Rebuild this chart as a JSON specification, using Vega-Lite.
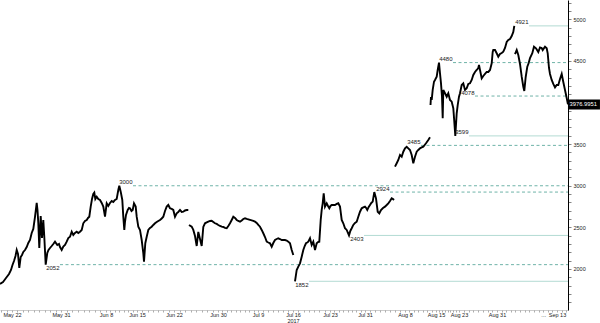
{
  "$schema": "https://vega.github.io/schema/vega-lite/v6.json",
  "width": 568,
  "height": 310,
  "autosize": {"type": "none"},
  "padding": {"left": 0, "top": 0, "right": 32, "bottom": 13},
  "background": "white",
  "config": {"view": {"stroke": null}, "font": "Liberation Sans"},
  "datasets": {
    "price": [
      {"t":"2017-05-19T19:00","p":1820,"s":1},{"t":"2017-05-20T08:20","p":1844,"s":1},{"t":"2017-05-20T21:33","p":1892,"s":1},{"t":"2017-05-21T10:47","p":1940,"s":1},{"t":"2017-05-21T19:35","p":1988,"s":1},{"t":"2017-05-22T02:12","p":2048,"s":1},{"t":"2017-05-22T08:49","p":2096,"s":1},{"t":"2017-05-22T15:26","p":2156,"s":1},{"t":"2017-05-22T20:43","p":2228,"s":1},{"t":"2017-05-23T02:27","p":2180,"s":1},{"t":"2017-05-23T08:11","p":2012,"s":1},{"t":"2017-05-23T14:21","p":2144,"s":1},{"t":"2017-05-23T20:05","p":2168,"s":1},{"t":"2017-05-24T01:49","p":2204,"s":1},{"t":"2017-05-24T09:18","p":2228,"s":1},{"t":"2017-05-24T16:48","p":2264,"s":1},{"t":"2017-05-24T23:51","p":2312,"s":1},{"t":"2017-05-25T07:20","p":2348,"s":1},{"t":"2017-05-25T14:50","p":2433,"s":1},{"t":"2017-05-25T21:53","p":2481,"s":1},{"t":"2017-05-26T05:23","p":2625,"s":1},{"t":"2017-05-26T12:53","p":2793,"s":1},{"t":"2017-05-26T16:24","p":2709,"s":1},{"t":"2017-05-26T19:56","p":2553,"s":1},{"t":"2017-05-27T00:20","p":2252,"s":1},{"t":"2017-05-27T06:31","p":2637,"s":1},{"t":"2017-05-27T12:14","p":2372,"s":1},{"t":"2017-05-27T17:58","p":2589,"s":1},{"t":"2017-05-27T22:23","p":2384,"s":1},{"t":"2017-05-28T04:33","p":2052,"s":1},{"t":"2017-05-28T11:36","p":2192,"s":1},{"t":"2017-05-28T16:53","p":2228,"s":1},{"t":"2017-05-28T23:30","p":2252,"s":1},{"t":"2017-05-29T07:00","p":2276,"s":1},{"t":"2017-05-29T14:03","p":2300,"s":1},{"t":"2017-05-29T21:32","p":2328,"s":1},{"t":"2017-05-30T07:41","p":2288,"s":1},{"t":"2017-05-30T15:11","p":2300,"s":1},{"t":"2017-05-30T19:35","p":2264,"s":1},{"t":"2017-05-31T03:00","p":2228,"s":1},{"t":"2017-05-31T09:49","p":2268,"s":1},{"t":"2017-05-31T17:04","p":2288,"s":1},{"t":"2017-06-01T00:19","p":2328,"s":1},{"t":"2017-06-01T07:09","p":2372,"s":1},{"t":"2017-06-01T14:24","p":2388,"s":1},{"t":"2017-06-01T21:40","p":2448,"s":1},{"t":"2017-06-02T04:29","p":2409,"s":1},{"t":"2017-06-02T11:44","p":2433,"s":1},{"t":"2017-06-02T18:59","p":2448,"s":1},{"t":"2017-06-03T01:49","p":2433,"s":1},{"t":"2017-06-03T09:04","p":2448,"s":1},{"t":"2017-06-03T16:20","p":2469,"s":1},{"t":"2017-06-03T23:09","p":2549,"s":1},{"t":"2017-06-04T06:25","p":2577,"s":1},{"t":"2017-06-04T13:40","p":2589,"s":1},{"t":"2017-06-04T19:13","p":2613,"s":1},{"t":"2017-06-05T00:46","p":2628,"s":1},{"t":"2017-06-05T06:44","p":2749,"s":1},{"t":"2017-06-05T12:17","p":2841,"s":1},{"t":"2017-06-05T17:49","p":2901,"s":1},{"t":"2017-06-05T22:05","p":2917,"s":1},{"t":"2017-06-06T02:22","p":2841,"s":1},{"t":"2017-06-06T08:20","p":2869,"s":1},{"t":"2017-06-06T15:10","p":2841,"s":1},{"t":"2017-06-06T22:25","p":2829,"s":1},{"t":"2017-06-07T05:40","p":2793,"s":1},{"t":"2017-06-07T12:29","p":2749,"s":1},{"t":"2017-06-07T19:45","p":2628,"s":1},{"t":"2017-06-08T03:47","p":2789,"s":1},{"t":"2017-06-08T12:28","p":2757,"s":1},{"t":"2017-06-08T21:41","p":2793,"s":1},{"t":"2017-06-09T06:53","p":2817,"s":1},{"t":"2017-06-09T15:34","p":2805,"s":1},{"t":"2017-06-10T00:46","p":2829,"s":1},{"t":"2017-06-10T09:59","p":2841,"s":1},{"t":"2017-06-10T18:39","p":2949,"s":1},{"t":"2017-06-11T00:04","p":3000,"s":1},{"t":"2017-06-11T07:40","p":2929,"s":1},{"t":"2017-06-11T16:20","p":2829,"s":1},{"t":"2017-06-11T21:45","p":2628,"s":1},{"t":"2017-06-12T03:10","p":2469,"s":1},{"t":"2017-06-12T06:58","p":2565,"s":1},{"t":"2017-06-12T12:23","p":2649,"s":1},{"t":"2017-06-12T21:35","p":2709,"s":1},{"t":"2017-06-13T04:38","p":2733,"s":1},{"t":"2017-06-13T10:04","p":2729,"s":1},{"t":"2017-06-13T18:11","p":2697,"s":1},{"t":"2017-06-14T00:41","p":2709,"s":1},{"t":"2017-06-14T07:44","p":2789,"s":1},{"t":"2017-06-14T16:56","p":2749,"s":1},{"t":"2017-06-14T22:22","p":2628,"s":1},{"t":"2017-06-15T05:54","p":2508,"s":1},{"t":"2017-06-15T13:37","p":2469,"s":1},{"t":"2017-06-15T21:20","p":2348,"s":1},{"t":"2017-06-16T04:37","p":2189,"s":1},{"t":"2017-06-16T07:47","p":2088,"s":1},{"t":"2017-06-16T13:41","p":2309,"s":1},{"t":"2017-06-16T20:03","p":2388,"s":1},{"t":"2017-06-17T03:19","p":2469,"s":1},{"t":"2017-06-17T11:02","p":2493,"s":1},{"t":"2017-06-17T18:45","p":2508,"s":1},{"t":"2017-06-18T02:01","p":2529,"s":1},{"t":"2017-06-18T09:44","p":2549,"s":1},{"t":"2017-06-18T17:28","p":2565,"s":1},{"t":"2017-06-19T00:43","p":2577,"s":1},{"t":"2017-06-19T08:26","p":2589,"s":1},{"t":"2017-06-19T16:10","p":2607,"s":1},{"t":"2017-06-19T23:25","p":2628,"s":1},{"t":"2017-06-20T07:09","p":2697,"s":1},{"t":"2017-06-20T14:52","p":2749,"s":1},{"t":"2017-06-20T22:08","p":2769,"s":1},{"t":"2017-06-21T05:51","p":2729,"s":1},{"t":"2017-06-21T13:34","p":2721,"s":1},{"t":"2017-06-21T20:50","p":2709,"s":1},{"t":"2017-06-22T04:22","p":2628,"s":1},{"t":"2017-06-22T11:47","p":2669,"s":1},{"t":"2017-06-22T18:46","p":2685,"s":1},{"t":"2017-06-23T02:11","p":2709,"s":1},{"t":"2017-06-23T09:36","p":2685,"s":1},{"t":"2017-06-23T16:35","p":2688,"s":1},{"t":"2017-06-24T00:00","p":2703,"s":1},{"t":"2017-06-24T07:25","p":2709,"s":1},{"t":"2017-06-24T14:24","p":2709,"s":1},
      {"t":"2017-06-24T17:28","p":2529,"s":2},{"t":"2017-06-25T05:15","p":2508,"s":2},{"t":"2017-06-25T12:14","p":2469,"s":2},{"t":"2017-06-25T19:39","p":2396,"s":2},{"t":"2017-06-26T03:04","p":2276,"s":2},{"t":"2017-06-26T10:03","p":2445,"s":2},{"t":"2017-06-26T17:28","p":2360,"s":2},{"t":"2017-06-27T00:53","p":2276,"s":2},{"t":"2017-06-27T07:52","p":2505,"s":2},{"t":"2017-06-27T15:17","p":2549,"s":2},{"t":"2017-06-27T22:42","p":2559,"s":2},{"t":"2017-06-28T05:41","p":2568,"s":2},{"t":"2017-06-28T13:06","p":2577,"s":2},{"t":"2017-06-28T20:31","p":2580,"s":2},{"t":"2017-06-29T03:30","p":2565,"s":2},{"t":"2017-06-29T10:55","p":2549,"s":2},{"t":"2017-06-29T18:20","p":2541,"s":2},{"t":"2017-06-30T01:37","p":2529,"s":2},{"t":"2017-06-30T10:48","p":2517,"s":2},{"t":"2017-06-30T19:59","p":2508,"s":2},{"t":"2017-07-01T04:37","p":2505,"s":2},{"t":"2017-07-01T13:48","p":2493,"s":2},{"t":"2017-07-01T22:59","p":2489,"s":2},{"t":"2017-07-02T07:37","p":2517,"s":2},{"t":"2017-07-02T16:48","p":2549,"s":2},{"t":"2017-07-03T01:59","p":2589,"s":2},{"t":"2017-07-03T10:37","p":2628,"s":2},{"t":"2017-07-03T19:48","p":2613,"s":2},{"t":"2017-07-04T04:59","p":2589,"s":2},{"t":"2017-07-04T13:37","p":2577,"s":2},{"t":"2017-07-04T22:48","p":2568,"s":2},{"t":"2017-07-05T07:59","p":2583,"s":2},{"t":"2017-07-05T16:37","p":2601,"s":2},{"t":"2017-07-06T01:48","p":2609,"s":2},{"t":"2017-07-06T10:59","p":2601,"s":2},{"t":"2017-07-06T19:37","p":2595,"s":2},{"t":"2017-07-07T04:48","p":2589,"s":2},{"t":"2017-07-07T13:59","p":2583,"s":2},{"t":"2017-07-07T22:37","p":2577,"s":2},{"t":"2017-07-08T07:48","p":2568,"s":2},{"t":"2017-07-08T16:59","p":2553,"s":2},{"t":"2017-07-09T01:26","p":2529,"s":2},{"t":"2017-07-09T09:36","p":2508,"s":2},{"t":"2017-07-09T17:46","p":2469,"s":2},{"t":"2017-07-10T01:26","p":2429,"s":2},{"t":"2017-07-10T09:36","p":2384,"s":2},{"t":"2017-07-10T17:46","p":2328,"s":2},{"t":"2017-07-11T01:26","p":2318,"s":2},{"t":"2017-07-11T09:36","p":2309,"s":2},{"t":"2017-07-11T17:46","p":2268,"s":2},{"t":"2017-07-12T01:26","p":2312,"s":2},{"t":"2017-07-12T09:36","p":2348,"s":2},{"t":"2017-07-12T17:46","p":2360,"s":2},{"t":"2017-07-13T01:26","p":2369,"s":2},{"t":"2017-07-13T09:36","p":2360,"s":2},{"t":"2017-07-13T17:46","p":2348,"s":2},{"t":"2017-07-14T01:26","p":2348,"s":2},{"t":"2017-07-14T09:36","p":2348,"s":2},{"t":"2017-07-14T17:46","p":2342,"s":2},{"t":"2017-07-15T01:26","p":2328,"s":2},{"t":"2017-07-15T09:36","p":2309,"s":2},{"t":"2017-07-15T17:46","p":2228,"s":2},{"t":"2017-07-16T01:22","p":2168,"s":2},
      {"t":"2017-07-16T09:05","p":1852,"s":3},{"t":"2017-07-16T16:48","p":1988,"s":3},{"t":"2017-07-17T00:04","p":2028,"s":3},{"t":"2017-07-17T07:47","p":2068,"s":3},{"t":"2017-07-17T15:31","p":2148,"s":3},{"t":"2017-07-17T22:46","p":2228,"s":3},{"t":"2017-07-18T05:08","p":2276,"s":3},{"t":"2017-07-18T11:02","p":2309,"s":3},{"t":"2017-07-18T16:29","p":2318,"s":3},{"t":"2017-07-18T21:29","p":2328,"s":3},{"t":"2017-07-19T05:12","p":2369,"s":3},{"t":"2017-07-19T12:55","p":2288,"s":3},{"t":"2017-07-19T20:11","p":2328,"s":3},{"t":"2017-07-20T03:54","p":2228,"s":3},{"t":"2017-07-20T11:37","p":2309,"s":3},{"t":"2017-07-20T17:32","p":2324,"s":3},{"t":"2017-07-20T23:26","p":2328,"s":3},{"t":"2017-07-21T05:47","p":2589,"s":3},{"t":"2017-07-21T10:20","p":2709,"s":3},{"t":"2017-07-21T14:52","p":2789,"s":3},{"t":"2017-07-21T19:25","p":2910,"s":3},{"t":"2017-07-22T01:19","p":2749,"s":3},{"t":"2017-07-22T09:02","p":2789,"s":3},{"t":"2017-07-22T14:56","p":2757,"s":3},{"t":"2017-07-22T20:50","p":2729,"s":3},{"t":"2017-07-23T02:44","p":2757,"s":3},{"t":"2017-07-23T09:20","p":2769,"s":3},{"t":"2017-07-23T18:06","p":2769,"s":3},{"t":"2017-07-24T03:26","p":2769,"s":3},{"t":"2017-07-24T12:45","p":2781,"s":3},{"t":"2017-07-24T21:32","p":2789,"s":3},{"t":"2017-07-25T06:52","p":2749,"s":3},{"t":"2017-07-25T16:11","p":2589,"s":3},{"t":"2017-07-26T00:58","p":2549,"s":3},{"t":"2017-07-26T10:17","p":2489,"s":3},{"t":"2017-07-26T19:37","p":2469,"s":3},{"t":"2017-07-27T08:14","p":2403,"s":3},{"t":"2017-07-27T15:22","p":2457,"s":3},{"t":"2017-07-27T23:03","p":2489,"s":3},{"t":"2017-07-28T07:50","p":2529,"s":3},{"t":"2017-07-28T17:09","p":2553,"s":3},{"t":"2017-07-29T02:29","p":2568,"s":3},{"t":"2017-07-29T11:16","p":2628,"s":3},{"t":"2017-07-29T20:35","p":2688,"s":3},{"t":"2017-07-30T05:55","p":2729,"s":3},{"t":"2017-07-30T14:41","p":2739,"s":3},{"t":"2017-07-31T00:00","p":2749,"s":3},{"t":"2017-07-31T05:46","p":2733,"s":3},{"t":"2017-07-31T11:02","p":2709,"s":3},{"t":"2017-07-31T17:46","p":2745,"s":3},{"t":"2017-08-01T00:00","p":2769,"s":3},{"t":"2017-08-01T06:14","p":2793,"s":3},{"t":"2017-08-01T12:58","p":2809,"s":3},{"t":"2017-08-01T20:38","p":2924,"s":3},{"t":"2017-08-02T04:48","p":2849,"s":3},{"t":"2017-08-02T12:58","p":2688,"s":3},{"t":"2017-08-02T20:38","p":2669,"s":3},{"t":"2017-08-03T04:48","p":2709,"s":3},{"t":"2017-08-03T14:24","p":2733,"s":3},{"t":"2017-08-04T00:00","p":2749,"s":3},{"t":"2017-08-04T08:10","p":2769,"s":3},{"t":"2017-08-04T15:50","p":2789,"s":3},{"t":"2017-08-05T00:00","p":2817,"s":3},{"t":"2017-08-05T08:10","p":2849,"s":3},{"t":"2017-08-05T14:24","p":2841,"s":3},{"t":"2017-08-05T19:12","p":2829,"s":3},
      {"t":"2017-08-06T00:00","p":3229,"s":4},{"t":"2017-08-06T08:10","p":3270,"s":4},{"t":"2017-08-06T15:50","p":3310,"s":4},{"t":"2017-08-07T00:00","p":3370,"s":4},{"t":"2017-08-07T08:10","p":3349,"s":4},{"t":"2017-08-07T15:50","p":3409,"s":4},{"t":"2017-08-08T00:00","p":3450,"s":4},{"t":"2017-08-08T09:13","p":3469,"s":4},{"t":"2017-08-08T17:53","p":3450,"s":4},{"t":"2017-08-09T03:06","p":3430,"s":4},{"t":"2017-08-09T12:18","p":3370,"s":4},{"t":"2017-08-09T20:59","p":3270,"s":4},{"t":"2017-08-10T06:11","p":3349,"s":4},{"t":"2017-08-10T15:24","p":3409,"s":4},{"t":"2017-08-11T00:04","p":3430,"s":4},{"t":"2017-08-11T09:17","p":3450,"s":4},{"t":"2017-08-11T18:30","p":3460,"s":4},{"t":"2017-08-12T03:10","p":3469,"s":4},{"t":"2017-08-12T17:48","p":3510,"s":4},{"t":"2017-08-13T06:16","p":3550,"s":4},{"t":"2017-08-13T15:28","p":3582,"s":4},
      {"t":"2017-08-13T18:11","p":3970,"s":5},{"t":"2017-08-13T20:53","p":4067,"s":5},{"t":"2017-08-14T00:41","p":4031,"s":5},{"t":"2017-08-14T06:06","p":4151,"s":5},{"t":"2017-08-14T13:09","p":4250,"s":5},{"t":"2017-08-14T18:34","p":4271,"s":5},{"t":"2017-08-15T05:50","p":4310,"s":5},{"t":"2017-08-15T14:11","p":4391,"s":5},{"t":"2017-08-16T01:03","p":4480,"s":5},{"t":"2017-08-16T09:23","p":4351,"s":5},{"t":"2017-08-16T17:44","p":4231,"s":5},{"t":"2017-08-17T02:05","p":4070,"s":5},{"t":"2017-08-17T07:56","p":3811,"s":5},{"t":"2017-08-17T12:56","p":4151,"s":5},{"t":"2017-08-18T03:08","p":4111,"s":5},{"t":"2017-08-18T17:19","p":4070,"s":5},{"t":"2017-08-19T06:41","p":4111,"s":5},{"t":"2017-08-19T20:52","p":4031,"s":5},{"t":"2017-08-20T11:04","p":4010,"s":5},{"t":"2017-08-21T00:25","p":3931,"s":5},{"t":"2017-08-21T08:46","p":3770,"s":5},{"t":"2017-08-21T17:07","p":3599,"s":5},{"t":"2017-08-22T04:48","p":3871,"s":5},{"t":"2017-08-22T13:09","p":3970,"s":5},{"t":"2017-08-23T00:00","p":4070,"s":5},{"t":"2017-08-23T05:03","p":4111,"s":5},{"t":"2017-08-23T13:38","p":4211,"s":5},{"t":"2017-08-23T21:44","p":4231,"s":5},{"t":"2017-08-24T06:19","p":4151,"s":5},{"t":"2017-08-24T14:55","p":4171,"s":5},{"t":"2017-08-24T22:59","p":4223,"s":5},{"t":"2017-08-25T07:35","p":4231,"s":5},{"t":"2017-08-25T16:10","p":4271,"s":5},{"t":"2017-08-26T00:14","p":4331,"s":5},{"t":"2017-08-26T08:51","p":4367,"s":5},{"t":"2017-08-26T17:26","p":4391,"s":5},{"t":"2017-08-27T01:32","p":4415,"s":5},{"t":"2017-08-27T05:04","p":4451,"s":5},{"t":"2017-08-27T10:07","p":4391,"s":5},{"t":"2017-08-27T18:42","p":4291,"s":5},{"t":"2017-08-28T02:47","p":4319,"s":5},{"t":"2017-08-28T11:23","p":4343,"s":5},{"t":"2017-08-28T19:58","p":4367,"s":5},{"t":"2017-08-29T04:03","p":4367,"s":5},{"t":"2017-08-29T12:38","p":4391,"s":5},{"t":"2017-08-29T21:14","p":4471,"s":5},{"t":"2017-08-30T02:17","p":4607,"s":5},{"t":"2017-08-30T05:19","p":4631,"s":5},{"t":"2017-08-30T13:54","p":4631,"s":5},{"t":"2017-08-30T22:29","p":4592,"s":5},{"t":"2017-08-31T06:46","p":4551,"s":5},{"t":"2017-08-31T15:36","p":4583,"s":5},{"t":"2017-09-01T00:26","p":4595,"s":5},{"t":"2017-09-01T08:46","p":4611,"s":5},{"t":"2017-09-01T17:36","p":4655,"s":5},{"t":"2017-09-02T02:26","p":4727,"s":5},{"t":"2017-09-02T10:46","p":4751,"s":5},{"t":"2017-09-02T19:36","p":4763,"s":5},{"t":"2017-09-03T04:26","p":4799,"s":5},{"t":"2017-09-03T12:46","p":4848,"s":5},{"t":"2017-09-03T17:58","p":4921,"s":5},
      {"t":"2017-09-03T21:36","p":4583,"s":6},{"t":"2017-09-04T06:26","p":4631,"s":6},{"t":"2017-09-04T14:46","p":4571,"s":6},{"t":"2017-09-04T23:36","p":4463,"s":6},{"t":"2017-09-05T08:26","p":4310,"s":6},{"t":"2017-09-05T16:46","p":4190,"s":6},{"t":"2017-09-05T21:58","p":4139,"s":6},{"t":"2017-09-06T05:14","p":4307,"s":6},{"t":"2017-09-06T13:34","p":4431,"s":6},{"t":"2017-09-06T20:50","p":4475,"s":6},{"t":"2017-09-07T03:36","p":4535,"s":6},{"t":"2017-09-07T15:34","p":4592,"s":6},{"t":"2017-09-08T00:24","p":4671,"s":6},{"t":"2017-09-08T10:48","p":4652,"s":6},{"t":"2017-09-08T22:46","p":4607,"s":6},{"t":"2017-09-09T07:36","p":4661,"s":6},{"t":"2017-09-09T16:26","p":4655,"s":6},{"t":"2017-09-09T21:38","p":4631,"s":6},{"t":"2017-09-10T09:36","p":4671,"s":6},{"t":"2017-09-10T18:26","p":4652,"s":6},{"t":"2017-09-10T23:38","p":4592,"s":6},{"t":"2017-09-11T06:24","p":4415,"s":6},{"t":"2017-09-11T11:36","p":4343,"s":6},{"t":"2017-09-11T20:26","p":4271,"s":6},{"t":"2017-09-12T04:46","p":4223,"s":6},{"t":"2017-09-12T13:36","p":4181,"s":6},{"t":"2017-09-12T22:26","p":4211,"s":6},{"t":"2017-09-13T06:46","p":4211,"s":6},{"t":"2017-09-13T15:36","p":4283,"s":6},{"t":"2017-09-14T00:26","p":4343,"s":6},{"t":"2017-09-14T08:46","p":4247,"s":6},{"t":"2017-09-14T17:36","p":4151,"s":6},{"t":"2017-09-15T02:26","p":4055,"s":6},{"t":"2017-09-15T09:00","p":3976.9951,"s":6}
    ],
    "levels": [
      {"p":3000,"t":"2017-06-14T02:18","style":"dashed","side":"above"},
      {"p":2924,"t":"2017-08-05T00:00","style":"dashed","side":"above"},
      {"p":2052,"t":"2017-05-30T19:35","style":"dashed","side":"below"},
      {"p":1852,"t":"2017-07-19T00:40","style":"solid","side":"below"},
      {"p":2403,"t":"2017-07-30T18:32","style":"solid","side":"below"},
      {"p":3485,"t":"2017-08-11T14:40","style":"dashed","side":"above"},
      {"p":3599,"t":"2017-08-25T02:32","style":"solid","side":"above"},
      {"p":4078,"t":"2017-08-26T08:51","style":"dashed","side":"above"},
      {"p":4480,"t":"2017-08-20T21:55","style":"dashed","side":"above"},
      {"p":4921,"t":"2017-09-06T22:24","style":"solid","side":"above"}
    ],
    "last": [{"t":"2017-09-15T09:00","p":3976.9951}]
  },
  "encoding": {
    "x": {
      "field": "t", "type": "temporal", "title": null,
      "scale": {
        "nice": false,
        "domain": {"expr": "[datetime(2017,4,19,19,6), datetime(2017,4,22), datetime(2017,4,31), datetime(2017,5,8), datetime(2017,5,15), datetime(2017,5,22), datetime(2017,5,30), datetime(2017,6,9), datetime(2017,6,16), datetime(2017,6,23), datetime(2017,6,31), datetime(2017,7,8), datetime(2017,7,15), datetime(2017,7,23), datetime(2017,7,31), datetime(2017,8,13), datetime(2017,8,15,9,12)]"},
        "range": [0, 12, 61, 106, 137, 174, 218, 258, 293, 330, 365, 405, 436, 459, 497, 557, 568]
      },
      "axis": {
        "tickCount": {"interval": "day", "step": 1},
        "grid": false,
        "domainColor": "#999",
        "domainWidth": 0.5,
        "tickColor": "#777",
        "tickSize": 2,
        "tickWidth": 0.6,
        "labelPadding": 0,
        "labelFont": "Liberation Sans",
        "labelFontSize": 5.5,
        "labelColor": "#222",
        "labelLineHeight": 6,
        "labelOverlap": false,
        "labelFlush": false,
        "labelBound": false,
        "labelExpr": "indexof(['May 22','May 31','Jun 8','Jun 15','Jun 22','Jun 30','Jul 9','Jul 23','Jul 31','Aug 8','Aug 15','Aug 23','Aug 31','Sep 13'], timeFormat(datum.value, '%b %-d')) >= 0 ? timeFormat(datum.value, '%b %-d') : (timeFormat(datum.value, '%b %-d') == 'Jul 16' ? ['Jul 16', '2017'] : (timeFormat(datum.value, '%b %-d') == 'Sep 10' ? '...' : ''))"
      }
    },
    "y": {
      "field": "p", "type": "quantitative", "title": null,
      "scale": {"domain": [1507, 5232], "nice": false, "zero": false},
      "axis": {
        "orient": "right",
        "grid": false,
        "values": [1600,1700,1800,1900,2000,2100,2200,2300,2400,2500,2600,2700,2800,2900,3000,3100,3200,3300,3400,3500,3600,3700,3800,3900,4000,4100,4200,4300,4400,4500,4600,4700,4800,4900,5000,5100,5200],
        "labelExpr": "datum.value % 500 === 0 && datum.value != 4000 ? '' + datum.value : ''",
        "domainColor": "#000",
        "domainWidth": 1,
        "tickColor": "#333",
        "tickWidth": 0.6,
        "tickSize": 3,
        "labelPadding": 2,
        "labelFont": "Liberation Sans",
        "labelFontSize": 5.5,
        "labelColor": "#222",
        "labelOverlap": false,
        "labelBound": false
      }
    }
  },
  "layer": [
    {
      "data": {"name": "levels"},
      "mark": {"type": "rule", "strokeWidth": 1},
      "encoding": {
        "x2": {"datum": {"year": 2017, "month": 9, "date": 15, "hours": 9, "minutes": 12}},
        "color": {"field": "style", "type": "nominal", "scale": {"domain": ["dashed", "solid"], "range": ["#6fb3a8", "#b3dbd3"]}, "legend": null},
        "strokeDash": {"field": "style", "type": "nominal", "scale": {"domain": ["dashed", "solid"], "range": [[3, 2.5], [1, 0]]}, "legend": null}
      }
    },
    {
      "data": {"name": "price"},
      "mark": {"type": "line", "color": "black", "strokeWidth": 1.9, "strokeJoin": "miter"},
      "encoding": {
        "detail": {"field": "s", "type": "nominal"}
      }
    },
    {
      "data": {"name": "levels"},
      "transform": [{"filter": "datum.side == 'above'"}],
      "mark": {"type": "text", "align": "right", "baseline": "alphabetic", "dy": -1.5, "dx": -0.5, "fontSize": 6, "font": "Liberation Sans", "color": "#222"},
      "encoding": {
        "text": {"field": "p", "type": "quantitative", "format": "d"}
      }
    },
    {
      "data": {"name": "levels"},
      "transform": [{"filter": "datum.side == 'below'"}],
      "mark": {"type": "text", "align": "right", "baseline": "top", "dy": 0.5, "dx": -0.5, "fontSize": 6, "font": "Liberation Sans", "color": "#222"},
      "encoding": {
        "text": {"field": "p", "type": "quantitative", "format": "d"}
      }
    },
    {
      "data": {"name": "last"},
      "mark": {"type": "point", "shape": "M0,-1H6.4V1H0Z", "filled": true, "color": "black", "opacity": 1, "size": 100, "strokeWidth": 0},
      "encoding": {}
    },
    {
      "data": {"name": "last"},
      "mark": {"type": "text", "align": "left", "baseline": "middle", "dx": 1.5, "fontSize": 5.8, "font": "Liberation Sans", "color": "white"},
      "encoding": {
        "text": {"field": "p", "type": "quantitative", "format": ".4f"}
      }
    }
  ]
}
